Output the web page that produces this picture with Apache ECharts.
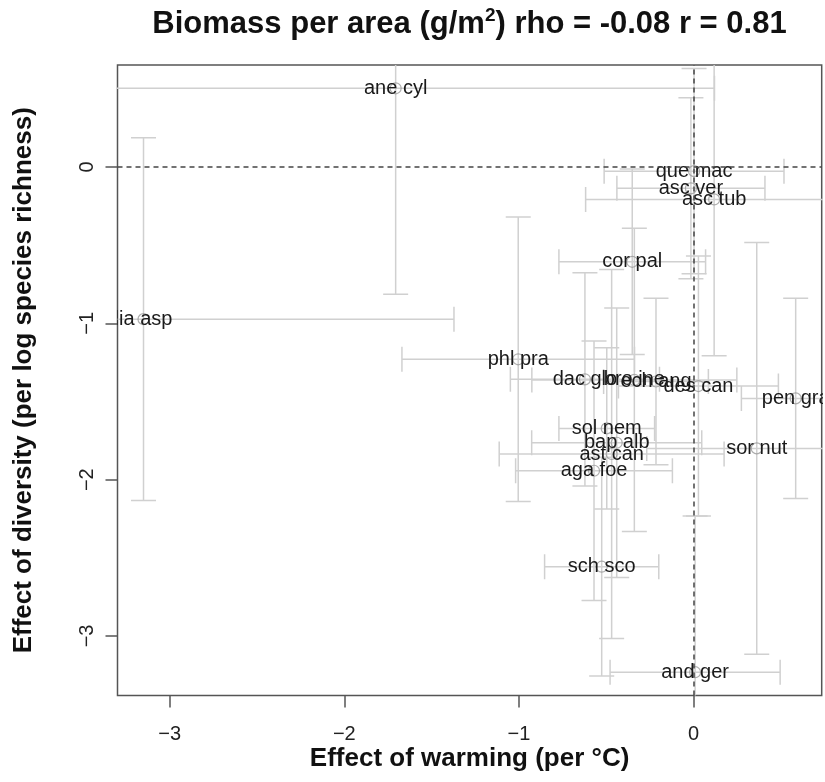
<!DOCTYPE html>
<html>
<head>
<meta charset="utf-8">
<script src="https://cdn.jsdelivr.net/npm/echarts@6/dist/echarts.min.js"></script>
<style>
  html, body { margin: 0; padding: 0; background: #fff; }
  #chart { width: 825px; height: 782px; }
</style>
</head>
<body>
<div id="chart"></div>
<script>
// ---- data ----
const species = ['ane cyl', 'lia asp', 'que mac', 'asc ver', 'asc tub', 'cor pal', 'phl pra', 'dac glo', 'bro ine', 'ech ang',
                 'des can', 'pen gra', 'sol nem', 'bap alb', 'ast can', 'aga foe', 'sor nut', 'sch sco', 'and ger'];
const warmingEffect = [-1.706, -3.150, 0.003, -0.015, 0.118, -0.351, -1.004, -0.622, -0.339, -0.215,
                       0.028, 0.585, -0.497, -0.440, -0.469, -0.570, 0.362, -0.526, 0.009];
const diversityEffect = [0.504, -0.973, -0.026, -0.136, -0.207, -0.606, -1.230, -1.358, -1.362, -1.372,
                         -1.401, -1.480, -1.672, -1.764, -1.836, -1.943, -1.800, -2.557, -3.232];
const warmingSE = [1.826, 1.778, 0.515, 0.424, 0.736, 0.420, 0.666, 0.427, 0.587, 0.300,
                   0.458, 0.311, 0.274, 0.487, 0.644, 0.449, 0.630, 0.327, 0.487];
const diversitySE = [1.317, 1.160, 0.657, 0.579, 1.000, 0.593, 0.910, 0.682, 0.970, 0.533,
                     0.832, 0.640, 0.516, 0.862, 1.180, 0.830, 1.317, 0.700, 1.000];
const tickValues = [-3, -2, -1, 0];
const titleParts = ['Biomass per area (g/m', '2', ') rho = -0.08 r = 0.81'];
const xTitle = 'Effect of warming (per °C)';
const yTitle = 'Effect of diversity (per log species richness)';

const FONT = '"Liberation Sans", Arial, Helvetica, sans-serif';
const chart = echarts.init(document.getElementById('chart'), null, { renderer: 'canvas' });

const errData = species.map((s, i) => [warmingEffect[i], diversityEffect[i], warmingSE[i], diversitySE[i]]);
const ptData = species.map((s, i) => ({ name: s, value: [warmingEffect[i], diversityEffect[i]] }));

function fmt(v) { return v < 0 ? '\u2212' + Math.abs(v) : String(v); }

function renderErr(params, api) {
  const x = api.value(0), y = api.value(1), ex = api.value(2), ey = api.value(3);
  const c = api.coord([x, y]);
  const l = api.coord([x - ex, y]);
  const r = api.coord([x + ex, y]);
  const t = api.coord([x, y + ey]);
  const b = api.coord([x, y - ey]);
  const cap = 12.5;
  const st = { stroke: '#d0d0d0', lineWidth: 1.5, fill: null };
  const ln = (x1, y1, x2, y2) => ({ type: 'line', shape: { x1, y1, x2, y2 }, style: st });
  return {
    type: 'group',
    children: [
      ln(l[0], c[1], r[0], c[1]),
      ln(l[0], c[1] - cap, l[0], c[1] + cap),
      ln(r[0], c[1] - cap, r[0], c[1] + cap),
      ln(c[0], t[1], c[0], b[1]),
      ln(c[0] - cap, t[1], c[0] + cap, t[1]),
      ln(c[0] - cap, b[1], c[0] + cap, b[1])
    ]
  };
}

function renderLabel(params, api) {
  const c = api.coord([api.value(0), api.value(1)]);
  return {
    type: 'text',
    x: c[0], y: c[1],
    style: {
      text: species[params.dataIndex],
      fill: '#1a1a1a',
      font: '20px ' + FONT,
      align: 'center',
      verticalAlign: 'middle'
    }
  };
}

const option = {
  animation: false,
  backgroundColor: '#ffffff',
  grid: {
    left: 117.5, right: 3.3, top: 65, bottom: 86.5,
    show: true, borderColor: '#555', borderWidth: 1.5, backgroundColor: 'transparent'
  },
  graphic: [{
    type: 'text',
    x: 469.5, y: 24,
    style: {
      text: '{a|' + titleParts[0] + '}{s|' + titleParts[1] + '}{a|' + titleParts[2] + '}',
      align: 'center', verticalAlign: 'middle',
      rich: {
        a: { fontSize: 31, fontWeight: 'bold', fontFamily: FONT, fill: '#111', lineHeight: 35 },
        s: { fontSize: 19, fontWeight: 'bold', fontFamily: FONT, fill: '#111', verticalAlign: 'top', lineHeight: 19 }
      }
    }
  }],
  xAxis: {
    type: 'value', min: -3.299, max: 0.734, position: 'bottom',
    splitLine: { show: false },
    axisLine: { show: false, onZero: false },
    axisTick: { show: true, inside: false, length: 12, customValues: tickValues, lineStyle: { color: '#555', width: 1.5 } },
    axisLabel: { customValues: tickValues, formatter: fmt, fontSize: 20, color: '#222', fontFamily: FONT, margin: 29 },
    name: xTitle, nameLocation: 'middle', nameGap: 50, nameMoveOverlap: false,
    nameTextStyle: { fontSize: 26, fontWeight: 'bold', color: '#111', fontFamily: FONT }
  },
  yAxis: {
    type: 'value', min: -3.381, max: 0.653, position: 'left',
    splitLine: { show: false },
    axisLine: { show: false, onZero: false },
    axisTick: { show: true, inside: false, length: 12, customValues: tickValues, lineStyle: { color: '#555', width: 1.5 } },
    axisLabel: { customValues: tickValues, formatter: fmt, fontSize: 20, color: '#222', fontFamily: FONT, margin: 20, rotate: 90 },
    name: yTitle, nameLocation: 'middle', nameGap: 81, nameRotate: 90, nameMoveOverlap: false,
    nameTextStyle: { fontSize: 26, fontWeight: 'bold', color: '#111', fontFamily: FONT }
  },
  series: [
    {
      type: 'custom', name: 'errors', clip: true, z: 1,
      renderItem: renderErr, data: errData, encode: { x: 0, y: 1 }, silent: true
    },
    {
      type: 'scatter', name: 'points', clip: true, z: 2,
      symbol: 'circle', symbolSize: 11,
      itemStyle: { color: 'rgba(255,255,255,0)', borderColor: '#9a9a9a', borderWidth: 1.2 },
      data: ptData, silent: true,
      markLine: {
        silent: true, symbol: 'none', label: { show: false },
        lineStyle: { color: '#444', width: 1.5, type: [5, 4] },
        data: [{ xAxis: 0 }, { yAxis: 0 }]
      }
    },
    {
      type: 'custom', name: 'labels', clip: true, z: 4,
      renderItem: renderLabel, data: ptData.map(d => d.value), encode: { x: 0, y: 1 }, silent: true
    }
  ]
};
chart.setOption(option);
</script>
</body>
</html>
